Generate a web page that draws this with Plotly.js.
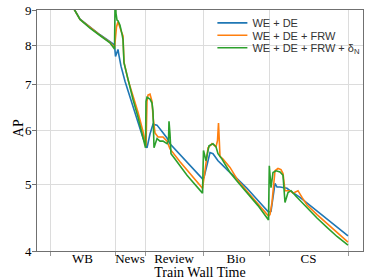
<!DOCTYPE html>
<html>
<head>
<meta charset="utf-8">
<script src="https://cdn.plot.ly/plotly-3.0.1.min.js"></script>
<style>html,body{margin:0;padding:0;background:#fff;}#chart{width:374px;height:280px;}</style>
</head>
<body>
<div id="chart"></div>
<script>
// Domain boundaries (train wall time) and labels
const domainNames = ["WB", "News", "Review", "Bio", "CS"];
const domainBounds = [0, 65, 95, 153, 219, 298];
const domainCenters = [32.5, 80, 124, 186, 258.5];
const yTicks = [4, 5, 6, 7, 8, 9];

const timeBlue = [14, 20, 24, 30, 40, 50, 60, 64.5, 65.5, 66.5, 68, 69, 71, 75, 79, 83, 88, 93, 97, 100, 103, 107, 112, 117, 120, 130, 137, 140, 152.5, 154, 157, 160, 163, 168, 173, 178, 186, 197, 208, 218.5, 221, 225, 227, 230, 237, 240, 250, 260, 270, 284, 298];
const apBlue = [9.9, 9.35, 9.03, 8.73, 8.50, 8.28, 8.09, 8.00, 7.70, 7.80, 7.88, 7.72, 7.45, 7.08, 6.78, 6.52, 6.15, 5.85, 5.66, 5.93, 6.13, 6.11, 5.98, 5.85, 5.74, 5.54, 5.39, 5.33, 5.10, 5.12, 5.35, 5.57, 5.55, 5.42, 5.33, 5.24, 5.12, 4.94, 4.74, 4.56, 4.57, 5.02, 4.96, 4.96, 4.94, 4.90, 4.79, 4.66, 4.53, 4.37, 4.21];

const timeOrange = [14, 20, 24, 30, 40, 50, 60, 64.5, 65.5, 66.5, 68, 70, 71.5, 73, 74, 78, 83, 88, 93, 96, 97, 98, 100, 101, 102, 103, 105, 108, 113, 117, 120, 130, 137, 140, 152.5, 155, 158, 162, 166, 167.5, 168.5, 170, 173, 180, 188, 197, 208, 218.5, 220, 222, 225, 228, 231, 233, 235, 240, 243, 248, 252, 257, 267, 277, 287, 298];
const apOrange = [9.9, 9.35, 9.03, 8.72, 8.48, 8.27, 8.07, 7.93, 8.20, 8.50, 8.65, 8.45, 8.36, 8.25, 7.55, 7.12, 6.76, 6.38, 5.98, 5.70, 6.62, 6.76, 6.78, 6.71, 6.62, 6.29, 5.95, 5.87, 5.87, 5.79, 5.64, 5.40, 5.25, 5.18, 4.94, 5.24, 5.66, 5.74, 5.68, 5.80, 6.15, 5.50, 5.45, 5.30, 5.07, 4.89, 4.69, 4.50, 4.52, 4.71, 5.24, 5.28, 5.26, 5.19, 4.90, 4.90, 4.86, 4.90, 4.79, 4.67, 4.52, 4.39, 4.25, 4.12];

const timeGreen = [14, 20, 24, 30, 40, 50, 60, 64.5, 65.2, 66, 67, 68, 70, 72, 73, 74, 78, 83, 88, 93, 95.5, 96, 97, 100, 102, 103, 104, 107, 110, 113, 117, 118.5, 119, 120, 121, 125, 130, 137, 140, 152.5, 153.5, 156, 159, 163, 166, 168, 172, 180, 188, 197, 208, 218.5, 219.3, 221, 223, 226, 230, 233, 235, 238, 241, 246, 257, 267, 277, 287, 298];
const apGreen = [9.9, 9.35, 9.03, 8.72, 8.47, 8.26, 8.06, 7.89, 9.6, 8.9, 8.70, 8.68, 8.55, 8.30, 8.15, 7.53, 7.10, 6.66, 6.28, 5.88, 5.66, 6.62, 6.71, 6.67, 6.58, 6.40, 5.66, 5.84, 5.79, 5.79, 5.74, 5.80, 6.19, 5.93, 5.55, 5.45, 5.32, 5.16, 5.10, 4.86, 5.61, 5.42, 5.70, 5.74, 5.68, 5.55, 5.45, 5.21, 5.04, 4.86, 4.66, 4.44, 5.33, 4.95, 5.21, 5.24, 5.22, 5.16, 4.71, 4.87, 4.90, 4.81, 4.62, 4.47, 4.33, 4.20, 4.08];

const seriesNames = ["WE + DE", "WE + DE + FRW", "WE + DE + FRW + δ<sub>N</sub>"];
const seriesColors = ["#1f77b4", "#ff7f0e", "#2ca02c"];
const legendIds = ["legend", "legend2", "legend3"];
const legendY = [0.9465, 0.895, 0.8436];

const traces = [
  {x: timeBlue, y: apBlue},
  {x: timeOrange, y: apOrange},
  {x: timeGreen, y: apGreen}
].map((t, i) => ({
  x: t.x, y: t.y, type: 'scatter', mode: 'lines', name: seriesNames[i],
  legend: legendIds[i],
  line: {color: seriesColors[i], width: 1.6}
}));

const serif = "Liberation Serif, Times New Roman, serif";
const sans = "Liberation Sans, Arial, sans-serif";
const layout = {
  width: 374, height: 280,
  margin: {l: 37, r: 11, t: 8, b: 29},
  paper_bgcolor: '#fff', plot_bgcolor: '#fff',
  showlegend: true,
  xaxis: {
    range: [-13, 313],
    tickmode: 'array', tickvals: domainCenters, ticktext: domainNames,
    ticks: '', ticklen: 0, showgrid: false, zeroline: false,
    ticklabelstandoff: -5,
    tickfont: {family: serif, size: 13, color: '#000'},
    showline: true, linecolor: '#707070', linewidth: 1, mirror: true,
    minor: {tickmode: 'array', tickvals: domainBounds, ticks: 'outside', ticklen: 4,
            tickcolor: '#999', showgrid: true, gridcolor: '#dcdcdc', gridwidth: 1},
    title: {text: 'Train Wall Time', font: {family: serif, size: 14, color: '#000'}, standoff: 6}
  },
  yaxis: {
    type: 'log', range: [Math.log10(4), Math.log10(9)],
    tickmode: 'array', tickvals: yTicks, ticktext: yTicks.map(String),
    ticks: 'outside', ticklen: 4, tickcolor: '#707070',
    ticklabelstandoff: -2,
    showgrid: true, gridcolor: '#dcdcdc', gridwidth: 1, zeroline: false,
    tickfont: {family: serif, size: 13, color: '#000'},
    showline: true, linecolor: '#707070', linewidth: 1, mirror: true
  },
  annotations: [{
    text: 'AP', xref: 'paper', yref: 'paper', x: -0.058, y: 0.51,
    xanchor: 'center', yanchor: 'middle', textangle: -90, showarrow: false,
    font: {family: serif, size: 14, color: '#000'}
  }]
};
legendIds.forEach((id, i) => {
  layout[id] = {
    x: 0.538, y: legendY[i], xanchor: 'left', yanchor: 'middle',
    bgcolor: 'rgba(255,255,255,0)', itemwidth: 30,
    font: {family: sans, size: 11, color: '#333'}
  };
});

Plotly.newPlot('chart', traces, layout, {staticPlot: true, displayModeBar: false});
</script>
</body>
</html>
